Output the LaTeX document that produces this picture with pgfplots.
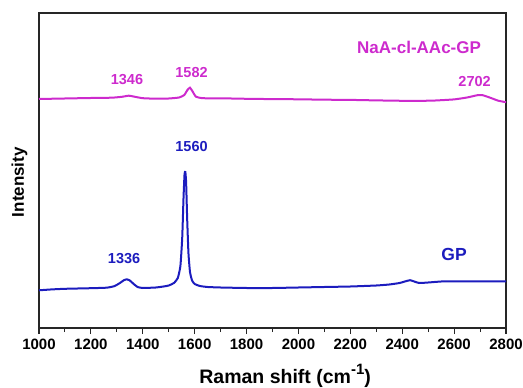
\documentclass[border=0pt]{standalone}
\usepackage{pgfplots}
\pgfplotsset{compat=1.18}
\usepackage{fontspec}
\setmainfont{Liberation Sans}
\definecolor{gpblue}{RGB}{28,28,190}
\definecolor{namag}{RGB}{205,42,205}
\begin{document}
\begin{tikzpicture}
\begin{axis}[
  scale only axis,
  width=467pt, height=315pt,
  xmin=1000, xmax=2800, ymin=0, ymax=315,
  xtick={1000,1200,...,2800},
  minor xtick={1100,1300,...,2700},
  xtick pos=bottom,
  ytick=\empty,
  tick align=outside,
  major tick length=6pt,
  minor tick length=4pt,
  axis line style={line width=1.2pt, black!85},
  every tick/.style={line width=1.1pt, black!85},
  /pgf/number format/assume math mode=true,
  /pgf/number format/set thousands separator={},
  xticklabel style={font=\fontsize{15}{18}\selectfont\bfseries, yshift=-1pt},
  clip=false,
]
\addplot[namag, line width=2pt, smooth, tension=0.3] coordinates {
(1000,229) (1100,229.5) (1200,230) (1280,230.3) (1320,231.2) (1346,232.3) (1370,231.2) (1400,229.8)
(1450,229.3) (1500,229.5) (1540,230.5) (1560,233) (1572,238) (1582,240.3) (1592,236.5) (1605,231.3)
(1630,229.8) (1700,229.7) (1800,229.2) (1900,228.9) (2000,228.7) (2100,228.3) (2200,228.1)
(2300,227.6) (2400,227.2) (2450,227.1) (2520,227.4) (2600,228.6) (2650,230.5) (2690,232.8)
(2710,232.8) (2740,230.2) (2770,227.3) (2800,225.8)
};
\addplot[gpblue, line width=2pt, smooth, tension=0.3] coordinates {
(1000,37.7) (1050,38.6) (1100,39.2) (1200,39.8) (1260,40.3) (1290,41.8) (1312,45) (1326,47.6)
(1338,48.7) (1350,47.5) (1365,44) (1380,41) (1400,40) (1450,40.5) (1480,41.5) (1500,42.5)
(1520,45) (1535,50) (1545,62) (1552,90) (1557,130) (1561,154) (1564,156) (1567,146)
(1571,110) (1576,75) (1582,56) (1590,47.5) (1600,44) (1620,42) (1650,41) (1700,40.5)
(1800,40) (1900,40) (2000,40.5) (2100,41) (2200,41.5) (2300,42.5) (2350,43.5) (2390,45)
(2410,46.5) (2430,47.8) (2445,46.6) (2465,45) (2500,45.5) (2550,46.5) (2600,46.7)
(2700,46.7) (2800,46.7)
};
\node[namag, anchor=base, font=\fontsize{17}{20}\selectfont\bfseries] at (axis cs:2465,274.7) {NaA-cl-AAc-GP};
\node[namag, anchor=base, font=\fontsize{14.5}{17}\selectfont\bfseries] at (axis cs:1339,243) {1346};
\node[namag, anchor=base, font=\fontsize{14.5}{17}\selectfont\bfseries] at (axis cs:1588,250.7) {1582};
\node[namag, anchor=base, font=\fontsize{14.5}{17}\selectfont\bfseries] at (axis cs:2679,241.3) {2702};
\node[gpblue, anchor=base, font=\fontsize{14.5}{17}\selectfont\bfseries] at (axis cs:1588,176.3) {1560};
\node[gpblue, anchor=base, font=\fontsize{14.5}{17}\selectfont\bfseries] at (axis cs:1328,64.7) {1336};
\node[gpblue, anchor=base, font=\fontsize{17.5}{20}\selectfont\bfseries] at (axis cs:2600,67) {GP};
\node[anchor=base, font=\fontsize{19.5}{22}\selectfont\bfseries] at (axis description cs:0.527,0) [yshift=-55pt] {Raman shift (cm\raisebox{0.42em}{\fontsize{15}{15}\selectfont -1})};
\node[xshift=-15pt, anchor=base, rotate=90, font=\fontsize{17}{20}\selectfont\bfseries] at (axis description cs:0,0.463) {Intensity};
\coordinate (SW) at (rel axis cs:0,0);
\coordinate (NE) at (rel axis cs:1,1);
\end{axis}
\pgfresetboundingbox
\path ([shift={(-39pt,-59pt)}]SW) rectangle ([shift={(17pt,13pt)}]NE);
\end{tikzpicture}
\end{document}
